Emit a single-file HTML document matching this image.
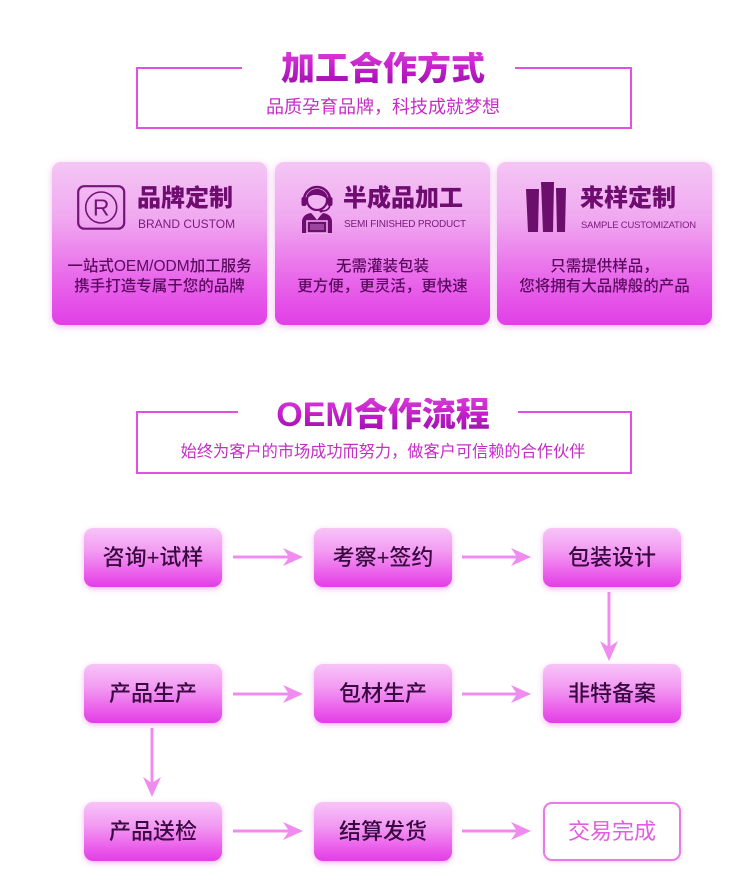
<!DOCTYPE html>
<html><head><meta charset="utf-8">
<style>
html,body{margin:0;padding:0;background:#fff;}
body{width:750px;height:888px;position:relative;overflow:hidden;font-family:"Liberation Sans","Noto Sans CJK SC",sans-serif;}
.abs{position:absolute;}
.ttl{position:absolute;left:0;width:766px;text-align:center;font-family:"Liberation Sans","Noto Sans CJK SC",sans-serif;font-weight:900;font-size:34px;line-height:34px;
 background:linear-gradient(180deg,#d83ad8 0%,#c21ec8 50%,#9a12aa 100%);-webkit-background-clip:text;background-clip:text;color:transparent;}
.sub{position:absolute;left:0;width:766px;text-align:center;color:#c42ec4;font-family:"Liberation Sans","Noto Sans CJK SC",sans-serif;}
.card{position:absolute;top:162px;width:215px;height:163px;border-radius:9px;
 background:linear-gradient(180deg,#f4c6f4 0%,#f0a8f0 35%,#e862ea 75%,#e13fe6 100%);
 box-shadow:0 2px 7px rgba(225,110,225,0.45);}
.ct{position:absolute;font-family:"Liberation Sans","Noto Sans CJK SC",sans-serif;font-weight:900;font-size:24px;line-height:26px;color:#6e0c70;white-space:nowrap;}
.ce{position:absolute;font-family:"Liberation Sans",sans-serif;color:#7a1a7c;white-space:nowrap;}
.cb{position:absolute;left:0;width:100%;text-align:center;font-family:"Liberation Sans","Noto Sans CJK SC",sans-serif;font-weight:500;font-size:15.5px;line-height:20px;color:#5a0a5e;white-space:nowrap;}
.node{position:absolute;width:138px;height:59px;border-radius:9px;
 background:linear-gradient(180deg,#f7c4f7 0%,#f29af2 40%,#ea5aea 80%,#e23ee6 100%);
 box-shadow:0 2px 6px rgba(225,100,225,0.45);
 text-align:center;line-height:59px;font-size:22px;font-weight:500;color:#3a0840;
 font-family:"Liberation Sans","Noto Sans CJK SC",sans-serif;}
</style></head>
<body>

<!-- Section 1 frame -->
<svg class="abs" style="left:0;top:0" width="750" height="888" viewBox="0 0 750 888">
 <g fill="none" stroke="#e252e2" stroke-width="2">
  <polyline points="242,68 137,68 137,128 631,128 631,68 515,68"/>
  <polyline points="238,412 137,412 137,473 631,473 631,412 518,412"/>
 </g>
 <!-- arrows -->
 <g stroke="#f08cf0" stroke-width="3" fill="#f08cf0">
  <line x1="233" y1="557" x2="296" y2="557"/>
  <polygon stroke="none" points="303,557 283,548 289,557 283,566"/>
  <line x1="462" y1="557" x2="524" y2="557"/>
  <polygon stroke="none" points="531,557 511,548 517,557 511,566"/>

  <line x1="233" y1="694" x2="296" y2="694"/>
  <polygon stroke="none" points="303,694 283,685 289,694 283,703"/>
  <line x1="462" y1="694" x2="524" y2="694"/>
  <polygon stroke="none" points="531,694 511,685 517,694 511,703"/>

  <line x1="233" y1="831" x2="296" y2="831"/>
  <polygon stroke="none" points="303,831 283,822 289,831 283,840"/>
  <line x1="462" y1="831" x2="524" y2="831"/>
  <polygon stroke="none" points="531,831 511,822 517,831 511,840"/>

  <line x1="609" y1="592" x2="609" y2="654"/>
  <polygon stroke="none" points="609,661 600,641 609,647 618,641"/>
  <line x1="152" y1="728" x2="152" y2="790"/>
  <polygon stroke="none" points="152,797 143,777 152,783 161,777"/>
 </g>
</svg>

<div class="ttl" style="top:52px;">加工合作方式</div>
<div class="sub" style="top:97px;font-size:18px;line-height:20px;">品质孕育品牌，科技成就梦想</div>

<!-- Card 1 -->
<div class="card" style="left:52px;">
 <svg class="abs" style="left:25px;top:23px" width="50" height="47" viewBox="0 0 50 47">
  <rect x="1.2" y="1.2" width="46" height="42.5" rx="6" fill="none" stroke="#741478" stroke-width="2.2"/>
  <circle cx="24.2" cy="22.5" r="15.5" fill="none" stroke="#741478" stroke-width="1.6"/>
  <text x="24.2" y="30.5" text-anchor="middle" font-family="Liberation Sans, sans-serif" font-size="23" fill="#741478">R</text>
 </svg>
 <div class="ct" style="left:85px;top:24px;">品牌定制</div>
 <div class="ce" style="left:86px;top:55px;font-size:12px;line-height:14px;">BRAND CUSTOM</div>
 <div class="cb" style="top:95px;">一站式OEM/ODM加工服务</div>
 <div class="cb" style="top:115px;">携手打造专属于您的品牌</div>
</div>

<!-- Card 2 -->
<div class="card" style="left:275px;">
 <svg class="abs" style="left:24px;top:21px" width="36" height="52" viewBox="0 0 36 52">
  <!-- headset band -->
  <path d="M5,17 A13,13 0 0 1 31,17" fill="none" stroke="#6e0c70" stroke-width="2.5"/>
  <!-- face -->
  <circle cx="18" cy="17" r="10" fill="#f2b4f2" stroke="#6e0c70" stroke-width="2.2"/>
  <!-- hair -->
  <path d="M8,16 A10,10 0 0 1 28,16 Q22,11 14,12 Q10,13 8,16 Z" fill="#6e0c70"/>
  <!-- ear pieces -->
  <rect x="2.5" y="14" width="5" height="9" rx="2" fill="#6e0c70"/>
  <rect x="28.5" y="14" width="5" height="9" rx="2" fill="#6e0c70"/>
  <path d="M31,22 Q30,28 23,28" fill="none" stroke="#6e0c70" stroke-width="1.6"/>
  <circle cx="22" cy="28" r="1.6" fill="#6e0c70"/>
  <!-- body -->
  <path d="M3,50 L3,38 Q4,31 12,30 L18,36 L24,30 Q32,31 33,38 L33,50 Z" fill="#6e0c70"/>
  <path d="M15,32 L18,36 L21,32" fill="none" stroke="#f2b4f2" stroke-width="1.2"/>
  <!-- laptop -->
  <rect x="8" y="38" width="20" height="12" fill="#6e0c70" stroke="#f2b4f2" stroke-width="1.5"/>
  <rect x="11" y="41" width="14" height="6" fill="#f2b4f2" opacity="0.35"/>
 </svg>
 <div class="ct" style="left:68px;top:24px;">半成品加工</div>
 <div class="ce" style="left:69px;top:57px;font-size:10px;line-height:12px;letter-spacing:-0.2px;">SEMI FINISHED PRODUCT</div>
 <div class="cb" style="top:95px;">无需灌装包装</div>
 <div class="cb" style="top:115px;">更方便，更灵活，更快速</div>
</div>

<!-- Card 3 -->
<div class="card" style="left:497px;">
 <svg class="abs" style="left:27px;top:18px" width="44" height="54" viewBox="0 0 44 54">
  <polygon points="2,9 15,9 14,52 4,52" fill="#6c0e6c"/>
  <polygon points="17,2 30,2 29,52 19,52" fill="#6c0e6c"/>
  <polygon points="32,8 42,8 41,52 33,52" fill="#6c0e6c"/>
 </svg>
 <div class="ct" style="left:83px;top:24px;">来样定制</div>
 <div class="ce" style="left:84px;top:58px;font-size:9.5px;line-height:11px;letter-spacing:-0.2px;">SAMPLE CUSTOMIZATION</div>
 <div class="cb" style="top:95px;">只需提供样品，</div>
 <div class="cb" style="top:115px;">您将拥有大品牌般的产品</div>
</div>

<!-- Section 2 -->
<div class="ttl" style="top:398px;">OEM合作流程</div>
<div class="sub" style="top:442px;font-size:16.2px;line-height:20px;">始终为客户的市场成功而努力，做客户可信赖的合作伙伴</div>

<!-- Flow nodes -->
<div class="node" style="left:84px;top:528px;">咨询+试样</div>
<div class="node" style="left:314px;top:528px;">考察+签约</div>
<div class="node" style="left:543px;top:528px;">包装设计</div>

<div class="node" style="left:84px;top:664px;">产品生产</div>
<div class="node" style="left:314px;top:664px;">包材生产</div>
<div class="node" style="left:543px;top:664px;">非特备案</div>

<div class="node" style="left:84px;top:802px;">产品送检</div>
<div class="node" style="left:314px;top:802px;">结算发货</div>
<div class="abs" style="left:543px;top:802px;width:134px;height:55px;border:2px solid #e67ae6;border-radius:9px;background:#fff;text-align:center;line-height:55px;font-size:22px;color:#e35ce3;font-family:'Liberation Sans','Noto Sans CJK SC',sans-serif;box-shadow:0 1px 4px rgba(230,120,230,0.3);">交易完成</div>

</body></html>
